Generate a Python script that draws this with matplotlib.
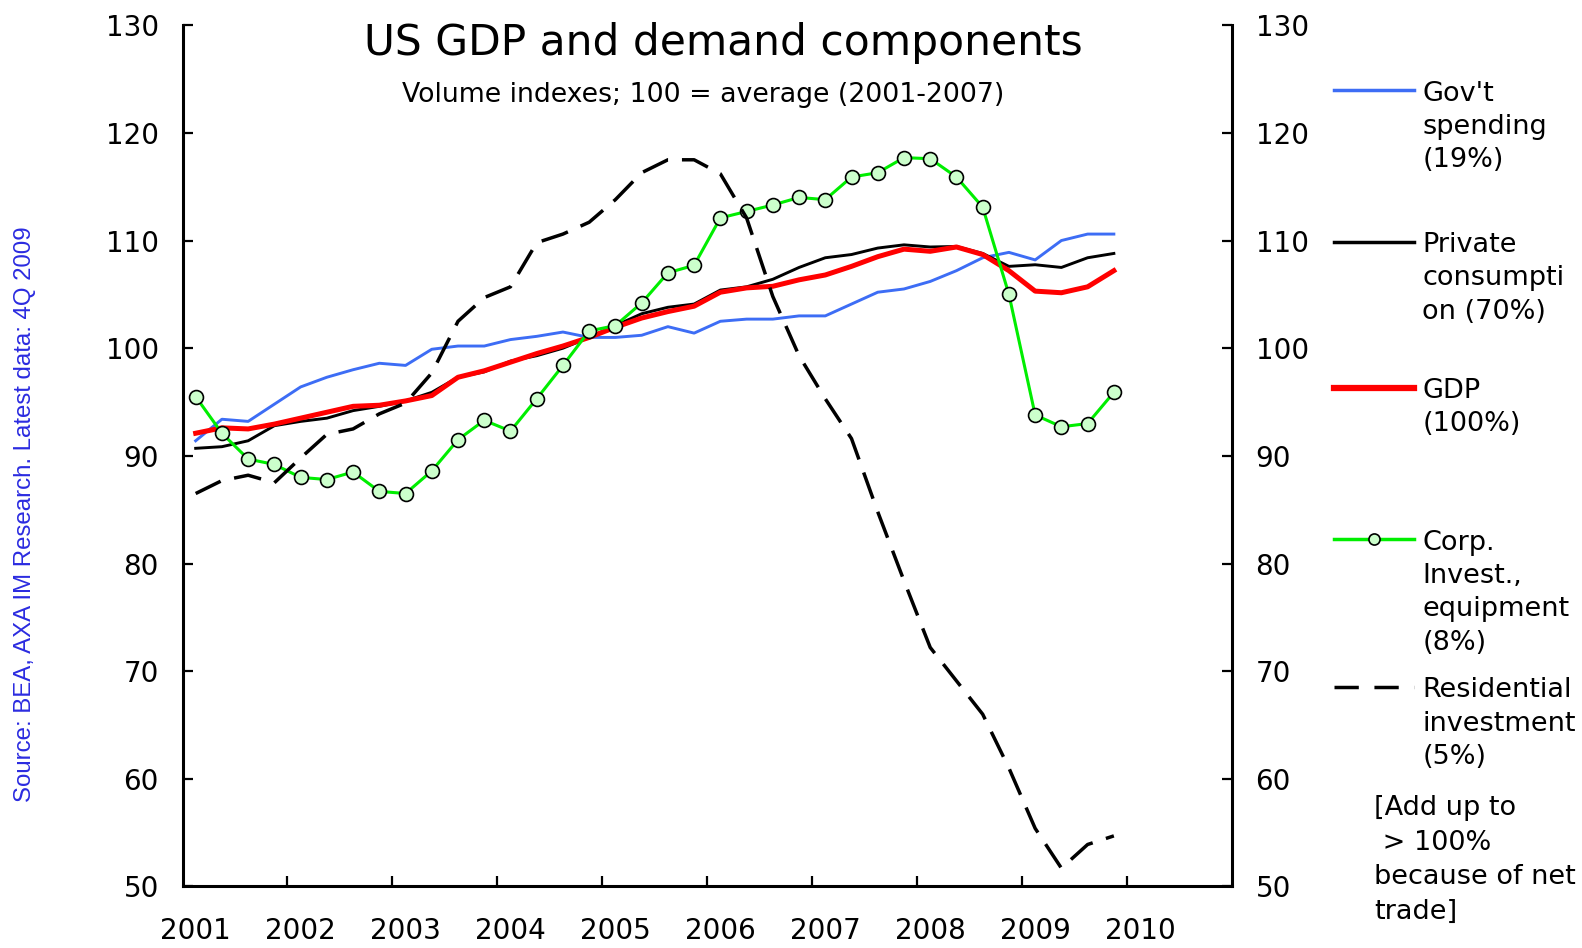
import matplotlib
matplotlib.use("Agg")
import matplotlib.pyplot as plt
from matplotlib.lines import Line2D
import numpy as np

# quarterly data, 2001Q1 - 2009Q4 (index, 100 = average 2001-2007)
years = list(range(2001, 2011))

govt = [91.4, 93.4, 93.2, 94.8, 96.4, 97.3, 98.0, 98.6, 98.4, 99.9, 100.2, 100.2,
        100.8, 101.1, 101.5, 101.0, 101.0, 101.2, 102.0, 101.4, 102.5, 102.7, 102.7, 103.0,
        103.0, 104.1, 105.2, 105.5, 106.2, 107.2, 108.4, 108.9, 108.2, 110.0, 110.6, 110.6]

private_cons = [90.7, 90.85, 91.4, 92.8, 93.2, 93.5, 94.2, 94.6, 95.1, 95.9, 97.3, 97.8,
                98.8, 99.3, 100.0, 101.0, 102.1, 103.2, 103.8, 104.1, 105.4, 105.7, 106.4, 107.5,
                108.4, 108.7, 109.3, 109.6, 109.4, 109.45, 108.8, 107.6, 107.75, 107.5, 108.4, 108.8]

gdp = [92.1, 92.6, 92.5, 92.95, 93.5, 94.05, 94.6, 94.7, 95.1, 95.6, 97.3, 97.9,
       98.7, 99.5, 100.2, 101.0, 101.95, 102.8, 103.4, 103.9, 105.2, 105.6, 105.75, 106.35,
       106.8, 107.6, 108.5, 109.2, 109.0, 109.4, 108.7, 107.2, 105.3, 105.15, 105.7, 107.2]

corp_invest = [95.5, 92.1, 89.7, 89.2, 88.0, 87.8, 88.5, 86.7, 86.5, 88.6, 91.5, 93.3,
               92.3, 95.3, 98.4, 101.6, 102.1, 104.2, 107.0, 107.7, 112.1, 112.7, 113.3, 114.0,
               113.8, 115.9, 116.3, 117.7, 117.6, 115.9, 113.1, 105.0, 93.8, 92.7, 93.0, 95.9]

residential = [86.5, 87.7, 88.2, 87.5, 89.8, 92.0, 92.5, 93.9, 94.9, 97.7, 102.5, 104.7,
               105.7, 109.8, 110.6, 111.7, 113.8, 116.3, 117.5, 117.5, 116.2, 112.1, 104.8, 99.3,
               95.3, 91.6, 84.8, 78.4, 72.2, 69.1, 66.0, 61.0, 55.4, 51.7, 53.9, 54.7]

x = 2001 + (np.arange(len(gdp)) + 0.5) / 4

fig = plt.figure(figsize=(15.82, 9.48), dpi=100)
ax = fig.add_axes([0.1154, 0.0649, 0.7787 - 0.1154, 0.9734 - 0.0649])

ax.plot(x, govt, color='#3D6DF5', lw=2.1, zorder=2)
ax.plot(x, private_cons, color='black', lw=2.1, zorder=3)
ax.plot(x, gdp, color='#FF0000', lw=3.6, zorder=4)
ax.plot(x, corp_invest, color='#00EE00', lw=2.2, marker='o', ms=10,
        mfc='#CCFFCC', mec='black', mew=1.2, zorder=5)
ax.plot(x, residential, color='black', lw=2.5, dashes=(8, 4), zorder=6)

ax.set_xlim(2001, 2011)
ax.set_ylim(50, 130)
ax.set_yticks(range(50, 131, 10))
ax.set_xticks(years[1:])
ax.set_xticklabels([])
ax.set_xticks([yy + 0.125 for yy in years], minor=True)
ax.set_xticklabels([str(yy) for yy in years], minor=True)

ax.spines['top'].set_visible(False)
for s in ['left', 'right', 'bottom']:
    ax.spines[s].set_linewidth(2.2)

ax.tick_params(axis='y', direction='in', length=7, width=1.6, labelsize=20,
               left=True, right=True, labelleft=True, labelright=True, pad=17)
ax.tick_params(axis='x', which='major', direction='in', length=7, width=1.6)
ax.tick_params(axis='x', which='minor', length=0, labelsize=20, pad=22)

fig.text(0.457, 0.955, 'US GDP and demand components', fontsize=30.5,
         ha='center', va='center')
fig.text(0.4445, 0.900, 'Volume indexes; 100 = average (2001-2007)', fontsize=19.3,
         ha='center', va='center')

fig.text(0.0155, 0.458, 'Source: BEA, AXA IM Research. Latest data: 4Q 2009',
         family='Liberation Sans', fontsize=17.3, color='#2B2BE0',
         rotation=90, ha='center', va='center')

# legend, drawn by hand to keep the even spacing of the original
leg = [
    ("Gov't\nspending\n(19%)", dict(color='#3D6DF5', lw=2.5), 0.905),
    ("Private\nconsumpti\non (70%)", dict(color='black', lw=2.5), 0.745),
    ("GDP\n(100%)", dict(color='#FF0000', lw=4.5), 0.591),
    ("Corp.\nInvest.,\nequipment\n(8%)", dict(color='#00EE00', lw=2.5), 0.431),
    ("Residential\ninvestment\n(5%)", dict(color='black', lw=2.5, dashes=(7, 4.5)), 0.2755),
]
for label, style, yy in leg:
    fig.add_artist(Line2D([0.843, 0.894], [yy, yy], transform=fig.transFigure, **style))
    fig.text(0.899, yy + 0.010, label, fontsize=19.5, ha='left', va='top', linespacing=1.36)
fig.add_artist(Line2D([0.8685], [0.431], transform=fig.transFigure, marker='o', ms=8,
                      mfc='#CCFFCC', mec='black', mew=1.2))

fig.text(0.8686, 0.161, "[Add up to\n > 100%\nbecause of net\ntrade]", fontsize=19.5,
         ha='left', va='top', linespacing=1.42)

fig.savefig('out.png', dpi=100)
